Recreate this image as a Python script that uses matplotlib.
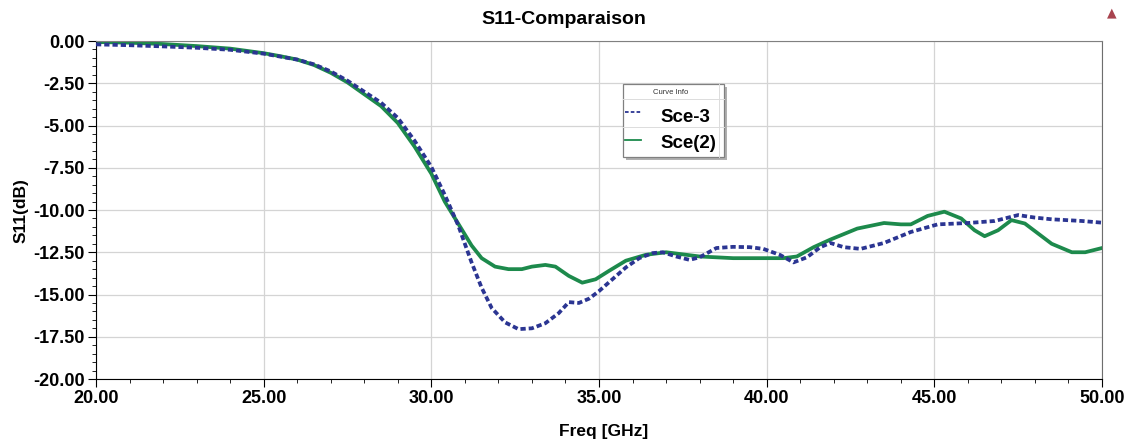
import numpy as np
import matplotlib
matplotlib.use("Agg")
import matplotlib.pyplot as plt
from matplotlib.ticker import MultipleLocator, FormatStrFormatter
from matplotlib.patches import Rectangle
from matplotlib.lines import Line2D

# ---------------------------------
# curve data
# ---------------------------------
freqSce3 = [20.0, 21.0, 22.0, 23.0, 24.0, 25.0, 26.0, 26.5, 27.0, 27.5, 28.0, 28.5, 29.0, 29.5,
            30.0, 30.4, 30.8, 31.2, 31.5, 31.8, 32.2, 32.6, 33.0, 33.4, 33.8, 34.1, 34.4, 34.7,
            35.0, 35.4, 35.8, 36.2, 36.6, 36.9, 37.3, 37.7, 38.0, 38.5, 39.0, 39.5, 39.9, 40.4,
            40.8, 41.2, 41.6, 41.9, 42.3, 42.8, 43.5, 44.3, 45.1, 46.0, 46.8, 47.5, 48.0, 48.5,
            49.4, 50.0]
s11Sce3 = [-0.2, -0.25, -0.32, -0.4, -0.52, -0.75, -1.1, -1.38, -1.8, -2.35, -3.0, -3.65, -4.55, -5.9,
           -7.45, -9.1, -10.9, -13.1, -14.6, -15.8, -16.65, -17.05, -17.0, -16.7, -16.1, -15.45, -15.5, -15.25,
           -14.8, -14.1, -13.4, -12.85, -12.55, -12.5, -12.75, -12.95, -12.8, -12.25, -12.18, -12.2, -12.3, -12.66,
           -13.1, -12.8, -12.2, -11.95, -12.2, -12.3, -11.95, -11.3, -10.85, -10.77, -10.65, -10.3, -10.45, -10.55,
           -10.65, -10.75]

freqSce2 = [20.0, 21.0, 22.0, 23.0, 24.0, 25.0, 25.5, 26.0, 26.5, 27.0, 27.5, 28.0, 28.5, 29.0, 29.5,
            30.0, 30.4, 30.8, 31.2, 31.5, 31.9, 32.3, 32.7, 33.0, 33.4, 33.7, 34.1, 34.5, 34.9,
            35.3, 35.8, 36.4, 37.0, 38.0, 39.0, 40.5, 40.9, 41.4, 41.9, 42.7, 43.5, 44.0, 44.3,
            44.8, 45.3, 45.8, 46.2, 46.5, 46.9, 47.3, 47.7, 48.1, 48.5, 49.1, 49.5, 50.0]
s11Sce2 = [-0.06, -0.1, -0.18, -0.3, -0.45, -0.72, -0.9, -1.1, -1.42, -1.88, -2.45, -3.15, -3.85, -4.85, -6.25,
           -7.85, -9.5, -10.8, -12.1, -12.85, -13.35, -13.5, -13.5, -13.35, -13.25, -13.35, -13.9, -14.3, -14.1,
           -13.6, -13.0, -12.65, -12.5, -12.75, -12.85, -12.85, -12.75, -12.2, -11.75, -11.1, -10.77, -10.85, -10.85,
           -10.35, -10.1, -10.5, -11.2, -11.55, -11.2, -10.6, -10.8, -11.4, -12.0, -12.5, -12.5, -12.25]

blue = "#2b3592"
green = "#1d8a4c"

plt.rcParams['font.family'] = ['Liberation Sans', 'DejaVu Sans']

W, H = 1128, 444
fig = plt.figure(figsize=(W / 100, H / 100), dpi=100)
ax = fig.add_axes([96 / W, 1 - 379 / H, 1006 / W, 338 / H])

ax.plot(freqSce3, s11Sce3, color=blue, lw=2.7, dashes=(1.4, 0.8), label="Sce-3", zorder=3)
ax.plot(freqSce2, s11Sce2, color=green, lw=2.7, label="Sce(2)", zorder=2)

ax.set_xlim(20, 50)
ax.set_ylim(-20, 0)
ax.xaxis.set_major_locator(MultipleLocator(5))
ax.xaxis.set_minor_locator(MultipleLocator(1))
ax.yaxis.set_major_locator(MultipleLocator(2.5))
ax.yaxis.set_minor_locator(MultipleLocator(0.5))
ax.xaxis.set_major_formatter(FormatStrFormatter("%.2f"))
ax.yaxis.set_major_formatter(FormatStrFormatter("%.2f"))
ax.grid(True, which="major", color="#d4d4d4", lw=0.9)
ax.tick_params(which="major", length=6, width=0.8, labelsize=13, pad=2)
ax.tick_params(which="minor", length=3, width=0.6)
for lab in ax.get_xticklabels() + ax.get_yticklabels():
    lab.set_fontweight("bold")

ax.spines["top"].set_color("#808080")
ax.spines["right"].set_color("#6e6e6e")

ax.set_xlabel("Freq [GHz]", fontsize=12.5, fontweight="bold", va="center")
ax.xaxis.set_label_coords(0.505, -0.154)
ax.set_ylabel("S11(dB)", fontsize=12.5, fontweight="bold", va="center")
ax.yaxis.set_label_coords(-0.074, 0.497)

fig.text(0.5, 1 - 20 / H, "S11-Comparaison", fontsize=14, fontweight="bold",
         ha="center", va="center")

# -------------------------------------
# "Curve Info" legend box
# -------------------------------------
def fx(px):
    return px / W


def fy(py):
    return 1 - py / H


x0, x1, y0, y1 = 623, 724, 84, 157
fig.add_artist(Rectangle((fx(x0 + 3), fy(y1 + 3)), fx(x1 - x0), (y1 - y0) / H,
                         transform=fig.transFigure, facecolor="#b0b0b0", edgecolor="none", zorder=5))
fig.add_artist(Rectangle((fx(x0), fy(y1)), fx(x1 - x0), (y1 - y0) / H,
                         transform=fig.transFigure, facecolor="white", edgecolor="#808080",
                         lw=0.9, zorder=6))
for sep in [99.5, 127]:
    fig.add_artist(Line2D([fx(x0), fx(x1)], [fy(sep), fy(sep)], transform=fig.transFigure,
                          color="#dcdcdc", lw=0.7, zorder=7))
fig.add_artist(Line2D([fx(719), fx(719)], [fy(y0), fy(y1)], transform=fig.transFigure,
                      color="#dcdcdc", lw=0.7, zorder=7))
fig.text(fx(671), fy(92.5), "Curve Info", fontsize=5.5, ha="center", va="center",
         color="#333333", zorder=8)
fig.add_artist(Line2D([fx(625), fx(641)], [fy(112), fy(112)], transform=fig.transFigure,
                      color=blue, lw=1.3, dashes=(2, 1.2), zorder=8))
fig.add_artist(Line2D([fx(625), fx(641)], [fy(140), fy(140)], transform=fig.transFigure,
                      color=green, lw=1.3, zorder=8))
fig.text(fx(660), fy(117), "Sce-3", fontsize=13.5, fontweight="bold", ha="left", va="center", zorder=8)
fig.text(fx(660), fy(144), "Sce(2)", fontsize=13.5, fontweight="bold", ha="left", va="center", zorder=8)

# small logo at the top right
fig.text(fx(1112), fy(13), "\u25B2", color="#a8434e", fontsize=9, ha="center", va="center",
         family="DejaVu Sans")

fig.savefig("out.png", dpi=100)
